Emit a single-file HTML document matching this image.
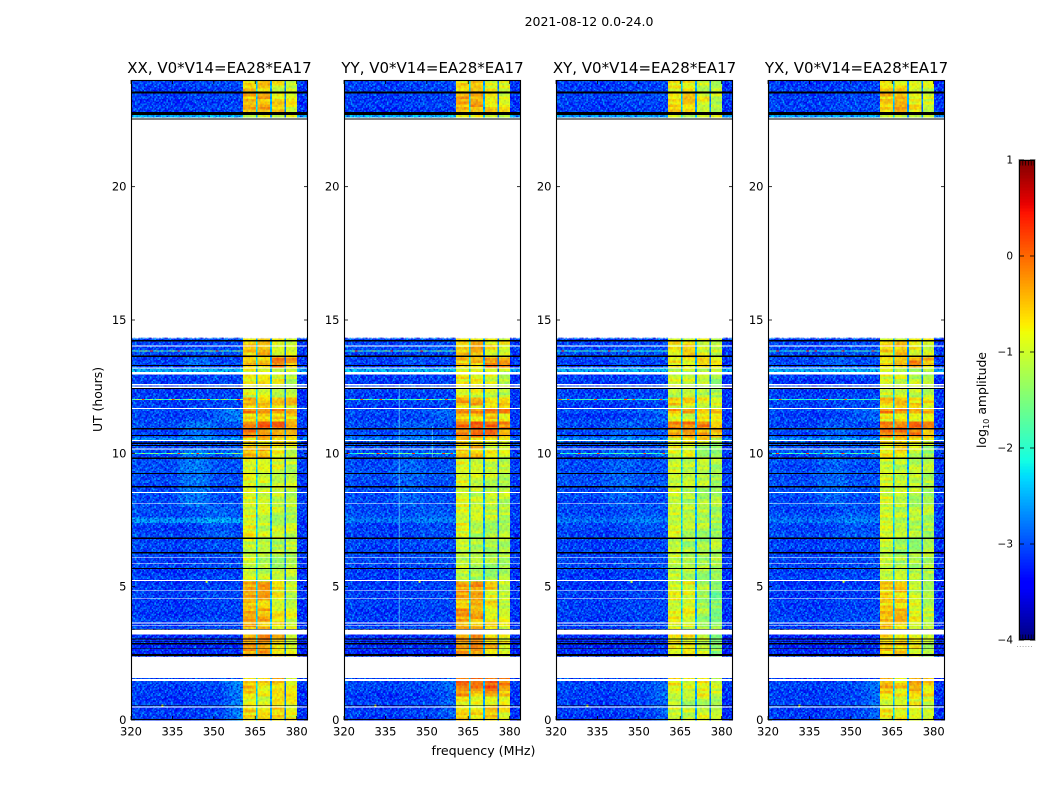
<!DOCTYPE html>
<html>
<head>
<meta charset="utf-8">
<title>2021-08-12 0.0-24.0</title>
<style>
html,body{margin:0;padding:0;background:#fff;}
svg{display:block;}
text{font-family:"DejaVu Sans","Liberation Sans",sans-serif;fill:#000;}
</style>
</head>
<body>
<svg id="fig" xmlns="http://www.w3.org/2000/svg" width="1050" height="800" viewBox="0 0 1050 800">
  <defs id="fig-defs"></defs>
  <text x="589" y="26" font-size="12.5" text-anchor="middle">2021-08-12 0.0-24.0</text>
  <text x="483.5" y="755" font-size="12.6" text-anchor="middle">frequency (MHz)</text>
  <text x="0" y="0" font-size="12.4" text-anchor="middle" transform="translate(102,399.5) rotate(-90)">UT (hours)</text>
  <text x="0" y="0" font-size="12.4" text-anchor="middle" transform="translate(986,400) rotate(-90)">log<tspan font-size="8.2" dy="3">10</tspan><tspan dy="-3"> amplitude</tspan></text>
</svg>
<script>
// ---- chart data (log10 amplitude, hours, MHz) ----
const panelTitles = ["XX, V0*V14=EA28*EA17", "YY, V0*V14=EA28*EA17", "XY, V0*V14=EA28*EA17", "YX, V0*V14=EA28*EA17"];
const panelKeys = ["xx", "yy", "xy", "yx"];
const xTicks = [320, 335, 350, 365, 380];
const yTicks = [0, 5, 10, 15, 20];
const cbarTicks = [1, 0, -1, -2, -3, -4];
const cbarLabels = ["1", "0", "\u22121", "\u22122", "\u22123", "\u22124"];
const cbarMinorTicks = [0, 0.2, 0.4, 0.6, 0.8, 1];

// time segments (lower edge in hours) with background and four passband levels
const segmentStart = [0, 0.5, 0.9, 1.2, 2.37, 3.38, 3.7, 4.2, 4.55, 4.88, 5.22, 5.66, 6.8, 7.41, 7.59, 8.71, 9.79, 10.27, 10.5, 10.65, 10.9, 11.25, 11.5, 11.66, 11.85, 12.15, 12.45, 12.96, 13.05, 13.18, 13.62, 14.25, 22.52, 22.69, 23.49];
const background = [-3.05, -3.05, -3.05, -3, -3.2, -3, -3.05, -3.05, -3.05, -3.05, -3.05, -3, -3, -3, -2.95, -2.95, -2.95, -2.9, -2.5, -3, -2.95, -3, -2.95, -3.05, -3, -3.05, -3.05, -3, -2.25, -3, -3, -2.95, -2.3, -3.05, -3.05];
const pass1 = [-0.65, -0.8, -0.6, -0.55, -0.3, -0.45, -0.35, -0.6, -0.35, -0.4, -0.95, -1, -0.75, -1, -0.9, -0.85, -0.55, -0.6, -0.6, -0.2, -0.1, -0.65, -0.2, -0.85, -0.4, -0.9, -0.75, -0.75, -0.9, -0.55, -0.55, -0.8, -0.95, -0.45, -0.6];
const pass2 = [-0.7, -0.9, -0.8, -0.7, -0.3, -0.55, -0.4, -0.6, -0.4, -0.3, -1.05, -1.15, -1, -1.1, -1, -0.95, -0.5, -0.6, -0.6, -0.2, -0.05, -0.7, -0.2, -0.75, -0.45, -0.9, -0.8, -0.8, -0.95, -0.55, -0.45, -0.8, -0.95, -0.4, -0.6];
const pass3 = [-0.6, -0.75, -0.5, -0.55, -0.55, -0.7, -0.75, -0.8, -0.8, -0.6, -1.1, -1.15, -1, -1.1, -1.05, -0.95, -0.8, -0.7, -0.5, -0.2, -0.05, -0.6, -0.25, -0.75, -0.6, -0.95, -0.9, -0.9, -0.95, -0.2, -0.75, -0.85, -0.95, -0.65, -0.85];
const pass4 = [-0.8, -0.85, -0.7, -0.75, -0.85, -0.9, -0.95, -1, -1.05, -1, -1.1, -1.1, -1.05, -1.15, -1.1, -1.05, -1, -0.85, -0.8, -0.4, -0.3, -0.7, -0.3, -0.85, -0.6, -1, -1.1, -1.1, -1, -0.4, -0.85, -0.9, -0.95, -0.85, -0.9];
const trimXX = [0, 0, 0, 0, 0, 0, 0, 0, 0, 0, 0, 0, 0, 0, 0, 0, 0, 0, 0, 0, 0, 0, 0, 0, 0, 0, 0, 0, 0, 0, 0, 0, 0, 0, 0];
const trimYY = [0, 0.05, 0.3, 0.55, 0, 0, 0.05, 0.05, 0, 0, -0.1, -0.05, -0.1, 0, 0, -0.05, 0, 0, 0, 0.05, 0.05, 0, 0.05, 0, 0.05, 0, 0, 0, 0, 0.05, 0, 0, 0, 0.05, 0];
const trimXY = [-0.3, -0.3, -0.3, -0.2, -0.5, -0.4, -0.45, -0.4, -0.5, -0.5, -0.1, -0.05, -0.15, -0.05, -0.1, -0.15, -0.35, -0.3, -0.2, -0.15, -0.15, -0.2, -0.15, -0.2, -0.2, -0.2, -0.2, -0.2, -0.1, -0.25, -0.2, -0.1, 0, -0.2, -0.2];
const trimYX = [-0.1, -0.1, 0, 0.1, -0.3, -0.1, -0.1, -0.1, -0.2, -0.2, -0.05, -0.05, -0.15, -0.05, -0.05, -0.1, -0.2, -0.1, -0.1, 0, 0, -0.1, 0, -0.1, -0.1, -0.1, -0.1, -0.1, -0.1, -0.1, -0.1, -0.05, 0, -0.1, -0.1];

// passband edges and notch levels (MHz, log10 amplitude)
const bandLow = [360.5, 365.9, 371, 376.1];
const bandHigh = [365.3, 370.4, 375.5, 380.2];
const notchLevel = [-2.35, -2.55, -2.75];
// background spectral shape per 4 MHz bin starting at 320 MHz
const bgProfile = [-0.07, -0.12, -0.12, -0.15, -0.17, -0.12, -0.09, -0.07, -0.07, -0.07, -0.07, -0.04, 0, 0.1, 0.1, -0.22, -0.22];

// diffuse brighter patches: hour from, hour to, MHz from, MHz to, boost
const patchHourLow = [8, 10.6, 11.2, 13.35, 0, 6.9, 7.41, 9.8];
const patchHourHigh = [10.2, 11.25, 11.7, 13.6, 1.5, 8, 7.59, 10.25];
const patchFreqLow = [335, 336, 348, 337, 352, 345, 320, 352];
const patchFreqHigh = [350, 352, 361, 350, 362, 358, 361, 362];
const patchBoost = [0.32, 0.28, 0.35, 0.3, 0.5, 0.15, 0.6, 0.3];
const patchGain = [1, 0.5, 0.5, 0.6];

// flagged (black) and empty (white) time ranges in hours
const blackLow = [23.49, 22.69, 22.52, 14.2, 13.62, 13.28, 12.42, 10.9, 10.65, 10.35, 10.27, 9.79, 9.22, 8.71, 6.79, 6.25, 5.66, 3.39, 3.01, 2.95, 2.83, 2.66, 2.4, 0.53];
const blackHigh = [23.57, 22.8, 22.56, 14.25, 13.66, 13.31, 12.45, 10.95, 10.69, 10.4, 10.31, 9.84, 9.26, 8.78, 6.85, 6.3, 5.7, 3.42, 3.05, 2.97, 2.88, 2.69, 2.48, 0.55];
const whiteLow = [22.56, 14.35, 14, 13.18, 12.96, 12.55, 12.43, 11.66, 10.46, 10.15, 8.52, 8.11, 6.09, 5.86, 5.22, 4.85, 4.55, 3.62, 3.54, 3.2, 1.58, 1.47, 0.46];
const whiteHigh = [22.6, 22.52, 14.05, 13.22, 13.05, 12.6, 12.5, 11.7, 10.5, 10.18, 8.55, 8.14, 6.11, 5.89, 5.25, 4.88, 4.58, 3.66, 3.56, 3.38, 2.37, 1.53, 0.5];

// narrow interference lines (hours) and isolated spikes
const rfiHours = [13.86, 12.04, 10.01];
const rfiGain = [1, 0.9, 0.6, 0.6];
const spikeHour = [5.22, 0.58];
const spikeMHz = [347, 331];
const spikeLevel = [-1, -0.9];

// thin vertical interference in the YY panel: panel, MHz, hour from, hour to
const streakPanel = [1, 1];
const streakMHz = [340, 352];
const streakHourLow = [3.4, 9.8];
const streakHourHigh = [12.6, 11];

// amplitude scatter read as a small repeating texture of digits 0-9
const grainTile = [
  "482917356028471935620184",
  "739105284673910258364719",
  "150648392716045829371562",
  "926374018539672401857236",
  "361852740196385274916043",
  "804729615342708163950278",
  "517036948261594730286415",
  "248591370684127956043872",
  "693420817953360814729156",
  "075168293407821649385027",
  "832745601928476310594268",
  "416093758214950387162739",
  "950382164703268519473081",
  "271846950135749026813694",
  "648219037586012473925810",
  "103567482990634185276342"
];
const fleckColor = ["#0000c8", "#0000d8", "#0000e8", "", "", "", "", "#0090ff", "#00a8ff", "#00d0ff"];
const fleckAlpha = [0.65, 0.5, 0.3, 0, 0, 0, 0, 0.35, 0.5, 0.6];

// ---- axis geometry and scales ----
const panelLeft = [131, 344, 556, 768];
const panelWidth = 177;
const plotTop = 80;
const plotBottom = 720;
const freqMin = 320;
const freqMax = 384.1;
const hourMax = 24;
const rowStep = 0.1;
const cbarTop = 160;
const cbarBottom = 640;
const cbarLeft = 1019;
const cbarWidth = 16;

function xScale(panel, mhz) { return panelLeft[panel] + (mhz - freqMin) / (freqMax - freqMin) * panelWidth; }
function yScale(hour) { return plotBottom - hour / hourMax * (plotBottom - plotTop); }
function cbarScale(v) { return cbarBottom - (v + 4) / 5 * (cbarBottom - cbarTop); }

function ramp(t, pts) {
  for (let i = 1; i < pts.length; i++) {
    if (t <= pts[i][0]) {
      const a = pts[i - 1], b = pts[i];
      return a[1] + (b[1] - a[1]) * (t - a[0]) / (b[0] - a[0]);
    }
  }
  return pts[pts.length - 1][1];
}
function jet(v) {
  const t = Math.max(0, Math.min(1, (v + 4) / 5));
  const r = ramp(t, [[0, 0], [0.35, 0], [0.66, 1], [0.89, 1], [1, 0.5]]);
  const g = ramp(t, [[0, 0], [0.125, 0], [0.375, 1], [0.64, 1], [0.91, 0], [1, 0]]);
  const b = ramp(t, [[0, 0.5], [0.11, 1], [0.34, 1], [0.65, 0], [1, 0]]);
  return "rgb(" + Math.round(r * 255) + "," + Math.round(g * 255) + "," + Math.round(b * 255) + ")";
}

const SVG_NS = "http://www.w3.org/2000/svg";
const fig = document.getElementById("fig");
const defs = document.getElementById("fig-defs");
function make(parent, tag, attrs, txt) {
  const el = document.createElementNS(SVG_NS, tag);
  for (const k in attrs) el.setAttribute(k, attrs[k]);
  if (txt !== undefined) el.textContent = txt;
  parent.appendChild(el);
  return el;
}

// fine speckle patterns built from the grain digits
function buildPattern(id, cols, rows, size, swapAxes) {
  const pat = make(defs, "pattern", { id: id, patternUnits: "userSpaceOnUse", width: cols * size, height: rows * size });
  for (let a = 0; a < rows; a++) {
    for (let b = 0; b < cols; b++) {
      const d = swapAxes ? Number(grainTile[b][a]) : Number(grainTile[a][b]);
      if (fleckAlpha[d] === 0) continue;
      make(pat, "rect", { x: b * size, y: a * size, width: size, height: size, fill: fleckColor[d], "fill-opacity": fleckAlpha[d] });
    }
  }
}
buildPattern("speckle-a", 24, 16, 1.5, false);
buildPattern("speckle-b", 16, 24, 1.75, true);

function grainAt(row, col, panel) {
  const line = grainTile[(row + panel * 5) % grainTile.length];
  const shift = Math.floor(row / grainTile.length) * 7 + panel * 11;
  return Number(line[(col + shift) % line.length]);
}
function segmentIndex(hour) {
  let idx = 0;
  for (let i = 0; i < segmentStart.length; i++) if (segmentStart[i] <= hour) idx = i;
  return idx;
}
const passArrays = [pass1, pass2, pass3, pass4];
const trimArrays = [trimXX, trimYY, trimXY, trimYX];

// channel edges: 1 MHz channels that follow the passband boundaries
const channelEdges = [];
(function () {
  let f = freqMin;
  const stops = [];
  for (let i = 0; i < bandLow.length; i++) { stops.push(bandLow[i]); stops.push(bandHigh[i]); }
  stops.push(freqMax);
  for (let s = 0; s < stops.length; s++) {
    const isNotch = s % 2 === 0 && s > 0 && s < stops.length - 1;
    if (isNotch) { channelEdges.push(f); f = stops[s]; continue; }
    const n = Math.max(1, Math.round(stops[s] - f));
    const d = (stops[s] - f) / n;
    for (let i = 0; i < n; i++) channelEdges.push(f + i * d);
    f = stops[s];
  }
  channelEdges.push(freqMax);
})();

function taper(v, lo, hi) {
  const edge = (hi - lo) * 0.25;
  return Math.max(0, Math.min(1, (v - lo) / edge, (hi - v) / edge));
}

function cellValue(panel, hour, row, col, mhz) {
  const seg = segmentIndex(hour);
  const g = grainAt(row, col, panel);
  const scatter = (g - 4.5) / 4.5;
  const stripe = (Number(grainTile[(row + panel * 3) % grainTile.length][5]) - 4.5) / 4.5;
  for (let b = 0; b < bandLow.length; b++) {
    if (mhz >= bandLow[b] && mhz < bandHigh[b]) {
      const bandStripe = (Number(grainTile[(row + panel * 3) % grainTile.length][b * 5]) - 4.5) / 4.5;
      return passArrays[b][seg] + trimArrays[panel][seg] + bandStripe * 0.2 + scatter * 0.1;
    }
    if (b < notchLevel.length && mhz >= bandHigh[b] && mhz < bandLow[b + 1]) {
      return notchLevel[b] + scatter * 0.2;
    }
  }
  let v = background[seg] + bgProfile[Math.min(bgProfile.length - 1, Math.floor((mhz - freqMin) / 4))] + scatter * 0.1 + stripe * 0.07;
  for (let p = 0; p < patchBoost.length; p++) {
    if (hour >= patchHourLow[p] && hour < patchHourHigh[p] && mhz >= patchFreqLow[p] && mhz < patchFreqHigh[p]) {
      const isBand = patchFreqHigh[p] - patchFreqLow[p] > 30;
      const weight = isBand ? 1 : taper(mhz, patchFreqLow[p], patchFreqHigh[p] + (patchFreqHigh[p] > 360 ? 20 : 0));
      v += patchBoost[p] * patchGain[panel] * weight;
    }
  }
  return v;
}

// ---- panels ----
for (let p = 0; p < panelLeft.length; p++) {
  const key = panelKeys[p];
  const left = panelLeft[p];
  const group = make(fig, "g", {});
  
  

  const heat = make(group, "g", { "shape-rendering": "crispEdges" });
  
  

  const rowCount = Math.round(hourMax / rowStep);
  for (let r = 0; r < rowCount; r++) {
    const hour = r * rowStep;
    const mid = hour + rowStep / 2;
    if (mid >= whiteLow[1] && mid < whiteHigh[1]) continue;
    if (mid >= whiteLow[19] && mid < whiteHigh[19]) continue;
    if (mid >= whiteLow[20] && mid < whiteHigh[20]) continue;
    const yTop = yScale(hour + rowStep);
    const h = yScale(hour) - yTop;
    for (let c = 0; c < channelEdges.length - 1; c++) {
      const f0 = channelEdges[c], f1 = channelEdges[c + 1];
      const v = cellValue(p, mid, r, c, (f0 + f1) / 2);
      const x0 = xScale(p, f0);
      const cell = make(heat, "rect", { x: x0, y: yTop, width: xScale(p, f1) - x0, height: h + 0.3, fill: jet(v) });
      
      
    }
  }

  // fine amplitude speckle over the background and passband
  const bgEnd = xScale(p, bandLow[0]);
  const rightStart = xScale(p, bandHigh[3]);
  const regionX = [left, rightStart];
  const regionW = [bgEnd - left, left + panelWidth - rightStart];
  for (let i = 0; i < regionX.length; i++) {
    const sa = make(group, "rect", { x: regionX[i], y: plotTop, width: regionW[i], height: plotBottom - plotTop, fill: "url(#speckle-a)" });
    
    
    const sb = make(group, "rect", { x: regionX[i], y: plotTop, width: regionW[i], height: plotBottom - plotTop, fill: "url(#speckle-b)", opacity: 0.6 });
    
    
  }
  const sp = make(group, "rect", { x: bgEnd, y: plotTop, width: rightStart - bgEnd, height: plotBottom - plotTop, fill: "url(#speckle-b)", opacity: 0.16 });
  
  

  // vertical interference streaks
  for (let i = 0; i < streakPanel.length; i++) {
    if (streakPanel[i] !== p) continue;
    const sx = xScale(p, streakMHz[i]);
    const st = make(group, "line", { x1: sx, x2: sx, y1: yScale(streakHourHigh[i]), y2: yScale(streakHourLow[i]), stroke: "#66e0ff", "stroke-width": 1, "stroke-opacity": 0.7 });
    
    
  }

  // interference lines, drawn above the speckle
  const rfiGroup = make(group, "g", { "shape-rendering": "crispEdges" });
  
  
  for (let i = 0; i < rfiHours.length; i++) {
    for (let c = 0; c < channelEdges.length - 1; c++) {
      const f0 = channelEdges[c], f1 = channelEdges[c + 1];
      if (f0 >= bandLow[0]) continue;
      const g = grainAt(i * 5 + 2, c, p);
      const v = g === 9 ? 0.3 * rfiGain[p] : -2.3 + (g / 9) * 1.3 * rfiGain[p];
      const x0 = xScale(p, f0);
      const rfi = make(rfiGroup, "rect", { x: x0, y: yScale(rfiHours[i]), width: xScale(p, f1) - x0, height: 1, fill: jet(v) });
      
      
    }
  }
  for (let i = 0; i < spikeHour.length; i++) {
    const spike = make(group, "rect", { x: xScale(p, spikeMHz[i]), y: yScale(spikeHour[i]), width: 2, height: 2, fill: jet(spikeLevel[i]) });
    
    
  }

  // empty and flagged time ranges
  for (let i = 0; i < whiteLow.length; i++) {
    const w = make(group, "rect", { x: left, y: yScale(whiteHigh[i]), width: panelWidth, height: yScale(whiteLow[i]) - yScale(whiteHigh[i]), fill: "#fff", "shape-rendering": "crispEdges" });
    
    
  }
  for (let i = 0; i < blackLow.length; i++) {
    const k = make(group, "rect", { x: left, y: yScale(blackHigh[i]), width: panelWidth, height: yScale(blackLow[i]) - yScale(blackHigh[i]), fill: "#000", "shape-rendering": "crispEdges" });
    
    
  }

  // frame
  const frame = make(group, "rect", { x: left + 0.5, y: plotTop + 0.5, width: panelWidth - 1, height: plotBottom - plotTop - 1, fill: "none", stroke: "#000", "stroke-width": 1.1 });
  
  

  // title
  const title = make(group, "text", { x: left + panelWidth / 2, y: 73, "font-size": 15, "text-anchor": "middle" }, panelTitles[p]);
  
  

  // x ticks
  for (let i = 0; i < xTicks.length; i++) {
    const x = xScale(p, xTicks[i]);
    const t1 = make(group, "line", { x1: x, x2: x, y1: plotBottom, y2: plotBottom - 4, stroke: "#000", "stroke-width": 0.8 });
    
    
    const t2 = make(group, "line", { x1: x, x2: x, y1: plotTop, y2: plotTop + 4, stroke: "#000", "stroke-width": 0.8 });
    
    
    const lab = make(group, "text", { x: x, y: 735.5, "font-size": 11.5, "text-anchor": "middle" }, String(xTicks[i]));
    
    
  }
  // y ticks
  for (let i = 0; i < yTicks.length; i++) {
    const y = yScale(yTicks[i]);
    const t1 = make(group, "line", { x1: left, x2: left + 4, y1: y, y2: y, stroke: "#000", "stroke-width": 0.8 });
    
    
    const t2 = make(group, "line", { x1: left + panelWidth - 4, x2: left + panelWidth, y1: y, y2: y, stroke: "#000", "stroke-width": 0.8 });
    
    
    const lab = make(group, "text", { x: left - 4.5, y: y + 4, "font-size": 11.5, "text-anchor": "end" }, String(yTicks[i]));
    
    
  }
}

// ---- colorbar ----
const cbar = make(fig, "g", {});


const cbarLevels = 160;
for (let i = 0; i < cbarLevels; i++) {
  const v0 = -4 + 5 * i / cbarLevels;
  const v1 = -4 + 5 * (i + 1) / cbarLevels;
  const lv = make(cbar, "rect", { x: cbarLeft, y: cbarScale(v1), width: cbarWidth, height: cbarScale(v0) - cbarScale(v1) + 0.4, fill: jet((v0 + v1) / 2), "shape-rendering": "crispEdges" });
  
  
}
const halo = make(cbar, "rect", { x: cbarLeft - 0.5, y: cbarTop - 0.5, width: cbarWidth + 1, height: cbarBottom - cbarTop + 1, fill: "none", stroke: "#c8c8c8", "stroke-width": 1 });


const cbarEdge = make(cbar, "rect", { x: cbarLeft + 0.5, y: cbarTop + 0.5, width: cbarWidth - 1, height: cbarBottom - cbarTop - 1, fill: "none", stroke: "#000", "stroke-width": 1 });


for (let i = 0; i < cbarTicks.length; i++) {
  const y = cbarScale(cbarTicks[i]);
  const lab = make(cbar, "text", { x: 1013, y: y + 3.5, "font-size": 10.5, "text-anchor": "end" }, cbarLabels[i]);
  
  
  const t1 = make(cbar, "line", { x1: cbarLeft, x2: cbarLeft + 5, y1: y, y2: y, stroke: "#000", "stroke-width": 0.8 });
  
  
  const t2 = make(cbar, "line", { x1: cbarLeft + cbarWidth - 5, x2: cbarLeft + cbarWidth, y1: y, y2: y, stroke: "#000", "stroke-width": 0.8 });
  
  
}
for (let i = 0; i < cbarMinorTicks.length; i++) {
  const x = cbarLeft + 1 + cbarMinorTicks[i] * (cbarWidth - 2);
  const t1 = make(cbar, "line", { x1: x, x2: x, y1: cbarTop, y2: cbarTop + 5.5, stroke: "#000", "stroke-width": 0.7 });
  
  
  const t2 = make(cbar, "line", { x1: x, x2: x, y1: cbarBottom, y2: cbarBottom - 5.5, stroke: "#000", "stroke-width": 0.7 });
  
  
  const dot = make(cbar, "rect", { x: x - 3, y: 646, width: 1, height: 1, fill: "#aaa" });
  
  
}
</script>
</body>
</html>
